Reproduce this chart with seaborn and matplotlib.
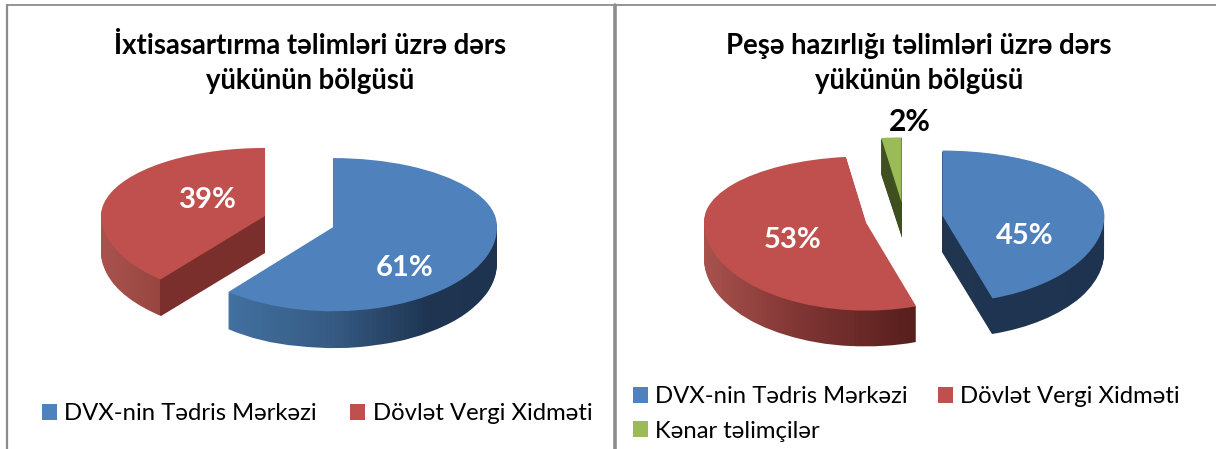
import numpy as np
import matplotlib
matplotlib.use("Agg")
import matplotlib.pyplot as plt
import seaborn as sns
from matplotlib.colors import LinearSegmentedColormap
from matplotlib.lines import Line2D
from matplotlib.transforms import Affine2D

# ---- data ----
left_title = "İxtisasartırma təlimləri üzrə dərs\nyükünün bölgüsü"
right_title = "Peşə hazırlığı təlimləri üzrə dərs\nyükünün bölgüsü"
left_labels = ["DVX-nin Tədris Mərkəzi", "Dövlət Vergi Xidməti"]
right_labels = ["DVX-nin Tədris Mərkəzi", "Dövlət Vergi Xidməti", "Kənar təlimçilər"]
left_values = [61, 39]
right_values = [45, 53, 2]

# ---- style ----
W, H = 1216, 449
sns.set_theme(style="white")
FONT = ["Lato", "Open Sans", "DejaVu Sans"]
plt.rcParams["font.family"] = FONT
TOP = sns.color_palette(["#4F81BD", "#C0504D", "#9BBB59"])
TEXT = "#000000"

fig = plt.figure(figsize=(W / 100, H / 100), dpi=100, facecolor="white")


def px_axes(x0, x1):
    return fig.add_axes([x0 / W, 0, (x1 - x0) / W, 1])


def draw_pie(ax, values, colors, explode, x0, x1, cx, cy, rx, ry_top, ry_bot, depth, sides):
    def f(y):
        y = np.asarray(y, dtype=float)
        return np.where(y >= 0, y * ry_top, y * ry_bot)

    def finv(v):
        v = np.asarray(v, dtype=float)
        return np.where(v >= 0, v / ry_top, v / ry_bot)

    y_hi = float(finv(cy))
    y_lo = float(finv(cy - H))
    kw = dict(explode=explode, startangle=90, counterclock=False, radius=1.0)
    for d in range(depth, 0, -1):
        wedges, _ = ax.pie(values, colors=colors, wedgeprops=dict(linewidth=0), **kw)
        for w, stops in zip(wedges, sides):
            w.set_transform(ax.transData + Affine2D().translate(0, -d))
            w.set_visible(False)
            xa, xb = stops[0][0], stops[-1][0]
            cmap = LinearSegmentedColormap.from_list(
                "s", [((p - xa) / (xb - xa), c) for p, c in stops])
            xs = (np.linspace(xa, xb, 61) - cx) / rx
            mesh = ax.pcolormesh(xs, [y_lo, y_hi], np.linspace(0, 1, 60)[None, :],
                                 cmap=cmap, vmin=0, vmax=1, shading="flat",
                                 antialiased=False, rasterized=False)
            mesh.set_clip_path(w)
    top, _ = ax.pie(values, colors=colors, wedgeprops=dict(linewidth=0), **kw)
    ax.set_yscale("function", functions=(f, finv))
    ax.set_aspect("auto")
    ax.set_xlim((x0 - cx) / rx, (x1 - cx) / rx)
    ax.set_ylim(y_lo, y_hi)
    ax.axis("off")
    return top


ax_l = px_axes(0, 612)
ax_r = px_axes(612, 1216)

wl = draw_pie(
    ax_l, left_values, TOP[:2], [0.22, 0.22], 0, 612, 299, 221, 164, 68, 84, 37,
    [[(225, "#41709F"), (330, "#365B84"), (430, "#1E3450"), (500, "#1D3350")],
     [(100, "#A9524E"), (158, "#97463F"), (159, "#7A2F2D"), (270, "#7A2F2D")]])
wr = draw_pie(
    ax_r, right_values, TOP[:3], [0.24, 0.24, 0.24], 612, 1216, 904, 218, 162, 65, 88, 36,
    [[(930, "#1F3550"), (1110, "#1D3350")],
     [(700, "#A9524E"), (800, "#7F3533"), (920, "#551E1C")],
     [(870, "#3F4F20"), (910, "#3F4F20")]])


def px_text(x, y, s, **k):
    fig.text(x / W, 1 - y / H, s, ha="center", va="center", **k)


for x, s in [(310, left_title), (919, right_title)]:
    px_text(x, 63.5, s, fontsize=19.8, fontweight="bold", color=TEXT, linespacing=1.45)

for x, y, v in [(208, 200, left_values[1]), (405, 268, left_values[0]),
                (793, 240, right_values[1]), (1025, 236, right_values[0])]:
    px_text(x, y, f"{v}%", fontsize=21, fontweight="bold", color="white")
px_text(910, 122, f"{right_values[2]}%", fontsize=21.5, fontweight="bold", color=TEXT)

legend_kw = dict(frameon=False, fontsize=17.2, handlelength=0.63, handleheight=0.63,
                 handletextpad=0.3, borderpad=0, borderaxespad=0, labelcolor=TEXT,
                 bbox_transform=fig.transFigure, loc="center left")
ax_l.legend(wl, left_labels, ncols=2, columnspacing=1.4,
            bbox_to_anchor=(42 / W, 1 - 414 / H), **legend_kw)
# matplotlib fills legend columns first, so the third entry goes second to sit under the first
ax_r.legend([wr[0], wr[2], wr[1]], [right_labels[0], right_labels[2], right_labels[1]],
            ncols=2, columnspacing=1.25, labelspacing=0.55,
            bbox_to_anchor=(633 / W, 1 - 414 / H), **legend_kw)

# frame lines of the two pasted panels
GREY = "#8C8C8C"
for xs, ys, lw in [((7, 7), (449, 5), 1.6), ((7, W), (5, 5), 1.3), ((615, 615), (449, 5), 2.6)]:
    fig.add_artist(Line2D([x / W for x in xs], [1 - y / H for y in ys], color=GREY,
                          linewidth=lw, transform=fig.transFigure))

fig.savefig("out.png", dpi=100, facecolor="white")
